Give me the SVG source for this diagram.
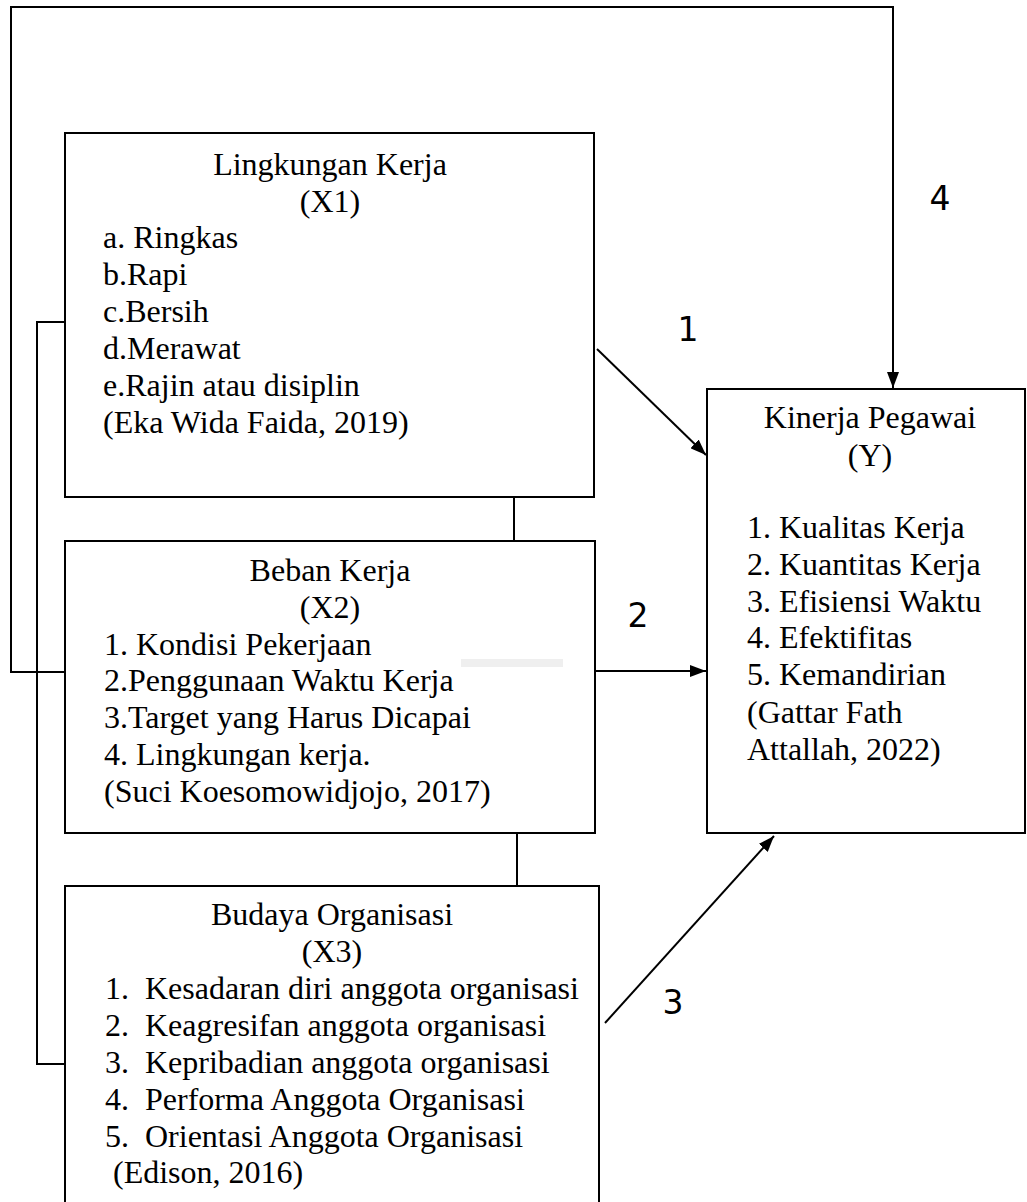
<svg xmlns="http://www.w3.org/2000/svg" width="1027" height="1202" viewBox="0 0 1027 1202">
<style>
.box{fill:#fff;stroke:#000;stroke-width:2}
.ln{fill:none;stroke:#000;stroke-width:2}
.t{font-family:"Liberation Serif","Times New Roman",serif;font-size:32px;fill:#000}
.c{text-anchor:middle}
.n{font-family:"DejaVu Sans","Noto Sans",sans-serif;font-size:33px;fill:#000;text-anchor:middle}
</style>
<defs>
<marker id="ah" viewBox="0 0 16 12" refX="16" refY="6" markerWidth="16" markerHeight="12" markerUnits="userSpaceOnUse" orient="auto">
<path d="M0,0 L16,6 L0,12 z" fill="#000"/>
</marker>
</defs>
<g id="connectors">
<path class="ln" d="M65,672 L11,672 L11,7 L893,7 L893,388" marker-end="url(#ah)"/>
<path class="ln" d="M65,322 L37,322 L37,1064 L65,1064"/>
<line class="ln" x1="514" y1="497" x2="514" y2="541"/>
<line class="ln" x1="517" y1="833" x2="517" y2="886"/>
<line class="ln" x1="597" y1="349" x2="706" y2="455" marker-end="url(#ah)"/>
<line class="ln" x1="595" y1="671" x2="706" y2="671" marker-end="url(#ah)"/>
<line class="ln" x1="605" y1="1023" x2="774" y2="836" marker-end="url(#ah)"/>
<text class="n" x="688" y="341">1</text>
<text class="n" x="638" y="627">2</text>
<text class="n" x="673" y="1014">3</text>
<text class="n" x="940" y="210">4</text>
</g>
<g id="lingkungan">
<rect class="box" x="65" y="133" width="529" height="364"/>
<text class="t c" x="330" y="175">Lingkungan Kerja</text>
<text class="t c" x="330" y="212">(X1)</text>
<text class="t" x="103" y="248">a. Ringkas</text>
<text class="t" x="103" y="285">b.Rapi</text>
<text class="t" x="103" y="322">c.Bersih</text>
<text class="t" x="103" y="359">d.Merawat</text>
<text class="t" x="103" y="396">e.Rajin atau disiplin</text>
<text class="t" x="103" y="433">(Eka Wida Faida, 2019)</text>
</g>
<g id="beban">
<rect class="box" x="65" y="541" width="530" height="292"/>
<rect x="461" y="659" width="102" height="8" fill="#efefef"/>
<text class="t c" x="330" y="581">Beban Kerja</text>
<text class="t c" x="330" y="618">(X2)</text>
<text class="t" x="104" y="655">1. Kondisi Pekerjaan</text>
<text class="t" x="104" y="691">2.Penggunaan Waktu Kerja</text>
<text class="t" x="104" y="728">3.Target yang Harus Dicapai</text>
<text class="t" x="104" y="765">4. Lingkungan kerja.</text>
<text class="t" x="104" y="802">(Suci Koesomowidjojo, 2017)</text>
</g>
<g id="budaya">
<rect class="box" x="65" y="886" width="534" height="330"/>
<text class="t c" x="332" y="925">Budaya Organisasi</text>
<text class="t c" x="332" y="962">(X3)</text>
<text class="t" x="105" y="999" xml:space="preserve">1.  Kesadaran diri anggota organisasi</text>
<text class="t" x="105" y="1036" xml:space="preserve">2.  Keagresifan anggota organisasi</text>
<text class="t" x="105" y="1073" xml:space="preserve">3.  Kepribadian anggota organisasi</text>
<text class="t" x="105" y="1110" xml:space="preserve">4.  Performa Anggota Organisasi</text>
<text class="t" x="105" y="1147" xml:space="preserve">5.  Orientasi Anggota Organisasi</text>
<text class="t" x="105" y="1183" xml:space="preserve"> (Edison, 2016)</text>
</g>
<g id="kinerja">
<rect class="box" x="707" y="389" width="318" height="444"/>
<text class="t c" x="870" y="428">Kinerja Pegawai</text>
<text class="t c" x="870" y="466">(Y)</text>
<text class="t" x="747" y="538">1. Kualitas Kerja</text>
<text class="t" x="747" y="575">2. Kuantitas Kerja</text>
<text class="t" x="747" y="612">3. Efisiensi Waktu</text>
<text class="t" x="747" y="648">4. Efektifitas</text>
<text class="t" x="747" y="685">5. Kemandirian</text>
<text class="t" x="747" y="723">(Gattar Fath</text>
<text class="t" x="747" y="760">Attallah, 2022)</text>
</g>
</svg>
